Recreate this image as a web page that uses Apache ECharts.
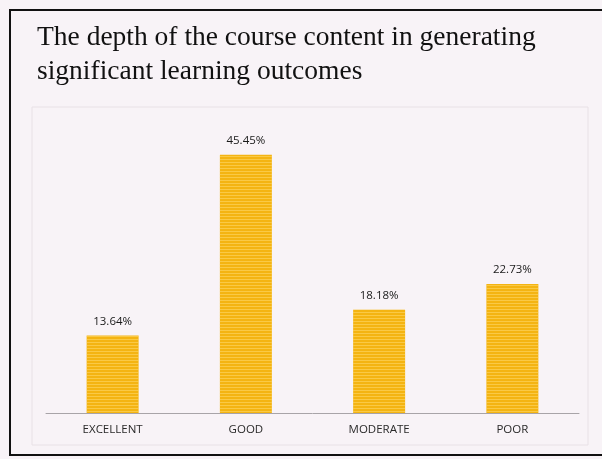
<!DOCTYPE html>
<html>
<head>
<meta charset="utf-8">
<script src="https://cdn.jsdelivr.net/npm/echarts@6/dist/echarts.min.js"></script>
<style>
  html, body { margin: 0; padding: 0; background: #f8f3f7; }
  #main { width: 602px; height: 459px; }
</style>
</head>
<body>
<div id="main"></div>
<script>
const categories = ['EXCELLENT', 'GOOD', 'MODERATE', 'POOR'];
const percents = [13.64, 45.45, 18.18, 22.73];

let myChart = echarts.init(document.getElementById('main'));

let option = {
  backgroundColor: '#f8f3f7',
  animation: false,
  title: {
    text: 'The depth of the course content in generating\nsignificant learning outcomes',
    left: 32,
    top: 16,
    textStyle: {
      fontFamily: 'Liberation Serif',
      fontWeight: 'normal',
      fontSize: 27.5,
      lineHeight: 34,
      color: '#111'
    }
  },
  graphic: [
    {
      type: 'rect',
      shape: { x: 10, y: 10, width: 640, height: 445 },
      style: { fill: null, stroke: '#111', lineWidth: 2 },
      z: 10
    },
    {
      type: 'rect',
      shape: { x: 32, y: 107, width: 556, height: 338 },
      style: { fill: null, stroke: '#e8e1e6', lineWidth: 1 },
      z: 0
    }
  ],
  grid: {
    left: 46,
    right: 23,
    top: 129,
    bottom: 46
  },
  xAxis: {
    type: 'category',
    data: categories,
    axisTick: { show: false },
    axisLine: { lineStyle: { color: '#a8a4a8', width: 1 } },
    axisLabel: {
      margin: 11,
      fontFamily: 'Open Sans',
      fontSize: 11.5,
      color: '#2a2a2a'
    }
  },
  yAxis: {
    type: 'value',
    min: 0,
    max: 50,
    show: false,
    splitLine: { show: false }
  },
  series: [{
    type: 'bar',
    data: percents,
    barWidth: '39%',
    itemStyle: {
      color: '#f4b412',
      decal: {
        symbol: 'rect',
        color: 'rgba(255, 222, 120, 0.5)',
        dashArrayX: [1, 0],
        dashArrayY: [1, 2],
        rotation: 0
      }
    },
    label: {
      show: true,
      position: 'top',
      distance: 8,
      formatter: p => p.value.toFixed(2) + '%',
      fontFamily: 'Open Sans',
      fontSize: 11.5,
      color: '#1a1a1a'
    }
  }]
};

myChart.setOption(option);
</script>
</body>
</html>
